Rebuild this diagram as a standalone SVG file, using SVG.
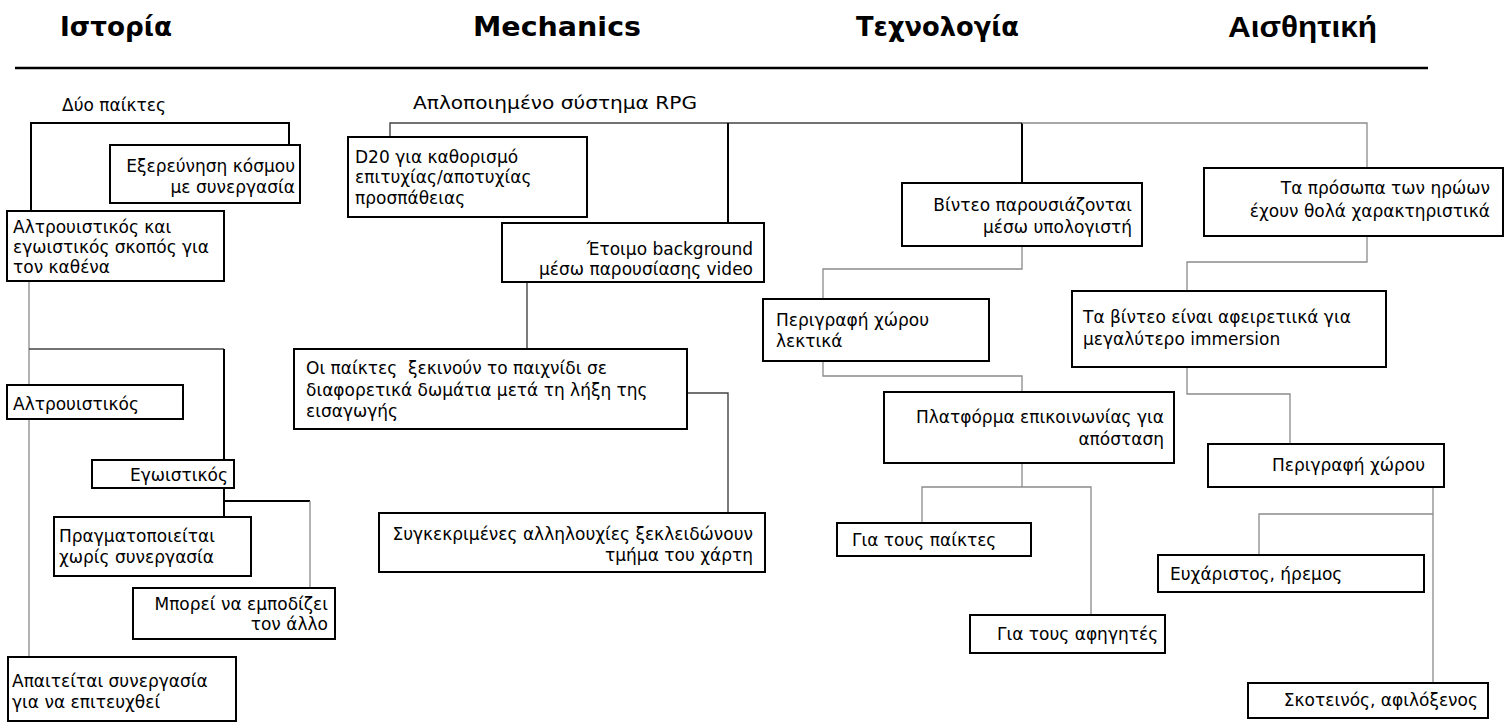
<svg xmlns="http://www.w3.org/2000/svg" width="1505" height="722" viewBox="0 0 1505 722">
<style>
.bg{fill:#ffffff}
.box{fill:#ffffff;stroke:#000;stroke-width:2}
.t{font-family:"DejaVu Sans","Liberation Sans",sans-serif;font-size:17px;fill:#000}
.r{text-anchor:end}
.h{font-family:"DejaVu Sans","Liberation Sans",sans-serif;font-weight:bold;font-size:26px;fill:#000}
.h2{font-family:"Liberation Sans",Arial,sans-serif;font-weight:bold;font-size:30px;fill:#000}
.k{fill:none;stroke:#000;stroke-width:2}
.d{fill:none;stroke:#444;stroke-width:1.4}
.g{fill:none;stroke:#8a8a8a;stroke-width:1.3}
</style>
<rect class="bg" x="0" y="0" width="1505" height="722"/>
<g id="headers">
<text class="h" x="60" y="36" textLength="112" lengthAdjust="spacingAndGlyphs">Ιστορία</text>
<text class="h" x="473" y="36" textLength="168" lengthAdjust="spacingAndGlyphs">Mechanics</text>
<text class="h" x="856" y="36" textLength="163" lengthAdjust="spacingAndGlyphs">Τεχνολογία</text>
<text class="h2" x="1228" y="37" textLength="149" lengthAdjust="spacingAndGlyphs">Αισθητική</text>
<line x1="15" y1="68" x2="1428" y2="68" stroke="#000" stroke-width="2.5"/>
</g>
<g id="connectors">
<path class="k" d="M31,211 V123 H289 V145"/>
<path class="g" d="M29,281 V657"/>
<path class="d" d="M29,349 H224"/>
<path class="k" d="M224,349 V460"/>
<path class="k" d="M224,488 V517 M224,501 H310"/>
<path class="g" d="M310,501 V588"/>
<path class="d" d="M390,137 V123 H1022"/>
<path class="k" d="M728,123 V223"/>
<path class="k" d="M1022,123 V183"/>
<path class="g" d="M1022,123 H1367 V168"/>
<path class="d" d="M527,282 V349"/>
<path class="d" d="M687,393 H728 V513"/>
<path class="g" d="M1022,246 V269 H823 V299"/>
<path class="g" d="M823,361 V376 H1022 V392"/>
<path class="g" d="M1022,463 V487 M922,523 V487 H1091 V615"/>
<path class="g" d="M1367,236 V262 H1187 V291"/>
<path class="g" d="M1187,367 V394 H1290 V444"/>
<path class="g" d="M1433,487 V683 M1433,514 H1259 V555"/>
</g>
<g id="n-dyo"><text class="t" x="62" y="111">Δύο παίκτες</text></g>
<g id="n-exer"><rect class="box" x="110" y="145" width="190" height="58"/>
<text class="t r" x="295" y="172">Εξερεύνηση κόσμου</text>
<text class="t r" x="295" y="193">με συνεργασία</text></g>
<g id="n-altro-ego"><rect class="box" x="7" y="211" width="217" height="70"/>
<text class="t" x="13" y="233">Αλτρουιστικός και</text>
<text class="t" x="13" y="253">εγωιστικός σκοπός για</text>
<text class="t" x="13" y="273">τον καθένα</text></g>
<g id="n-altro"><rect class="box" x="7" y="385" width="176" height="34"/>
<text class="t" x="13" y="410">Αλτρουιστικός</text></g>
<g id="n-ego"><rect class="box" x="92" y="460" width="142" height="28"/>
<text class="t r" x="228" y="481">Εγωιστικός</text></g>
<g id="n-pragm"><rect class="box" x="54" y="517" width="197" height="59"/>
<text class="t" x="59" y="542">Πραγματοποιείται</text>
<text class="t" x="59" y="563">χωρίς συνεργασία</text></g>
<g id="n-mporei"><rect class="box" x="133" y="588" width="202" height="51"/>
<text class="t r" x="328" y="610">Μπορεί να εμποδίζει</text>
<text class="t r" x="328" y="630">τον άλλο</text></g>
<g id="n-apait"><rect class="box" x="8" y="657" width="228" height="64"/>
<text class="t" x="12" y="687">Απαιτείται συνεργασία</text>
<text class="t" x="12" y="708">για να επιτευχθεί</text></g>
<g id="n-rpg"><text class="t" x="413" y="109" style="font-size:18.5px" textLength="284" lengthAdjust="spacingAndGlyphs">Απλοποιημένο σύστημα RPG</text></g>
<g id="n-d20"><rect class="box" x="348" y="137" width="239" height="80"/>
<text class="t" x="355" y="163">D20 για καθορισμό</text>
<text class="t" x="355" y="183">επιτυχίας/αποτυχίας</text>
<text class="t" x="355" y="204">προσπάθειας</text></g>
<g id="n-etoimo"><rect class="box" x="502" y="223" width="262" height="59"/>
<text class="t r" x="753" y="255">Έτοιμο background</text>
<text class="t r" x="753" y="275">μέσω παρουσίασης video</text></g>
<g id="n-paiktes"><rect class="box" x="294" y="349" width="393" height="80"/>
<text class="t" x="306" y="374" xml:space="preserve">Οι παίκτες  ξεκινούν το παιχνίδι σε</text>
<text class="t" x="306" y="396">διαφορετικά δωμάτια μετά τη λήξη της</text>
<text class="t" x="306" y="417">εισαγωγής</text></g>
<g id="n-synk"><rect class="box" x="379" y="513" width="386" height="59"/>
<text class="t r" x="753" y="540">Συγκεκριμένες αλληλουχίες ξεκλειδώνουν</text>
<text class="t r" x="753" y="561">τμήμα του χάρτη</text></g>
<g id="n-vinteo"><rect class="box" x="902" y="183" width="240" height="63"/>
<text class="t r" x="1132" y="211">Βίντεο παρουσιάζονται</text>
<text class="t r" x="1132" y="233">μέσω υπολογιστή</text></g>
<g id="n-perig-lekt"><rect class="box" x="763" y="299" width="226" height="62"/>
<text class="t" x="776" y="326">Περιγραφή χώρου</text>
<text class="t" x="776" y="347">λεκτικά</text></g>
<g id="n-platf"><rect class="box" x="884" y="392" width="290" height="71"/>
<text class="t r" x="1164" y="423">Πλατφόρμα επικοινωνίας για</text>
<text class="t r" x="1164" y="445">απόσταση</text></g>
<g id="n-paiktes2"><rect class="box" x="837" y="523" width="194" height="33"/>
<text class="t" x="852" y="546">Για τους παίκτες</text></g>
<g id="n-afig"><rect class="box" x="970" y="615" width="195" height="38"/>
<text class="t" x="997" y="640">Για τους αφηγητές</text></g>
<g id="n-prosopa"><rect class="box" x="1204" y="168" width="299" height="68"/>
<text class="t r" x="1490" y="194">Τα πρόσωπα των ηρώων</text>
<text class="t r" x="1490" y="217">έχουν θολά χαρακτηριστικά</text></g>
<g id="n-vinteo2"><rect class="box" x="1072" y="291" width="314" height="76"/>
<text class="t" x="1083" y="323">Τα βίντεο είναι αφειρετιικά για</text>
<text class="t" x="1083" y="345">μεγαλύτερο immersion</text></g>
<g id="n-perig"><rect class="box" x="1208" y="444" width="236" height="43"/>
<text class="t r" x="1425" y="471">Περιγραφή χώρου</text></g>
<g id="n-eux"><rect class="box" x="1158" y="555" width="266" height="37"/>
<text class="t" x="1170" y="580">Ευχάριστος, ήρεμος</text></g>
<g id="n-skot"><rect class="box" x="1248" y="683" width="240" height="35"/>
<text class="t r" x="1478" y="706">Σκοτεινός, αφιλόξενος</text></g>
</svg>
